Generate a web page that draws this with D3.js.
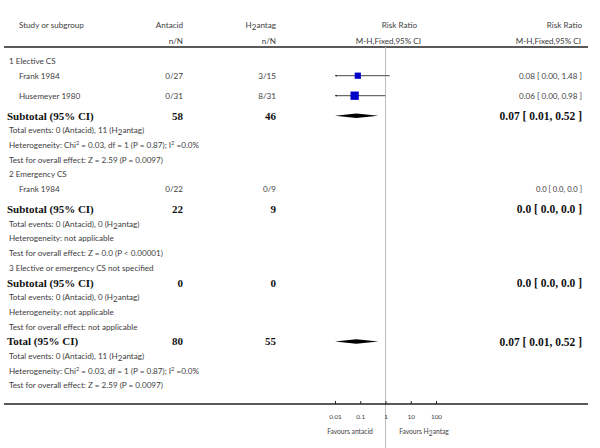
<!DOCTYPE html>
<html><head><meta charset="utf-8">
<script src="https://cdn.jsdelivr.net/npm/d3@7"></script>
<style>
html,body{margin:0;padding:0;background:#fff;}
svg{display:block;}
.sm{font-family:Lato,"Open Sans",sans-serif;font-size:8.1px;fill:#404040;}
.bd{font-family:"Liberation Serif","Times New Roman",serif;font-weight:bold;font-size:11px;fill:#111;}
</style></head>
<body>
<svg id="c" width="600" height="448"></svg>
<script>
// ---------- data ----------
const groupTitles = ["1 Elective CS", "2 Emergency CS", "3 Elective or emergency CS not specified"];
const studyNames = ["Frank 1984", "Husemeyer 1980", "Frank 1984"];
const studyGroup = [0, 0, 1];
const antacidEvents = [0, 0, 0];
const antacidTotal = [27, 31, 22];
const h2Events = [3, 8, 0];
const h2Total = [15, 31, 9];
const studyRR = [0.08, 0.06, null];
const studyLow = [0.00, 0.00, null];
const studyHigh = [1.48, 0.98, null];
const studyWeight = [36, 64, 0];
const studyLabels = ["0.08 [ 0.00, 1.48 ]", "0.06 [ 0.00, 0.98 ]", "0.0 [ 0.0, 0.0 ]"];

const subAntacid = [58, 22, 0];
const subH2 = [46, 9, 0];
const subRR = [0.07, null, null];
const subLow = [0.01, null, null];
const subHigh = [0.52, null, null];
const subLabels = ["0.07 [ 0.01, 0.52 ]", "0.0 [ 0.0, 0.0 ]", "0.0 [ 0.0, 0.0 ]"];
const subEventsA = [0, 0, 0];
const subEventsH2 = [11, 0, 0];
const subHet = [["Heterogeneity: Chi", "2", " = 0.03, df = 1 (P = 0.87); I", "2", " =0.0%"],
                ["Heterogeneity: not applicable"],
                ["Heterogeneity: not applicable"]];
const subTest = ["Test for overall effect: Z = 2.59 (P = 0.0097)",
                 "Test for overall effect: Z = 0.0 (P < 0.00001)",
                 "Test for overall effect: not applicable"];

const totalAntacid = 80, totalH2 = 55;
const totalRR = 0.07, totalLow = 0.01, totalHigh = 0.52;
const totalLabel = "0.07 [ 0.01, 0.52 ]";
const totalEventsA = 0, totalEventsH2 = 11;
const totalHet = ["Heterogeneity: Chi", "2", " = 0.03, df = 1 (P = 0.87); I", "2", " =0.0%"];
const totalTest = "Test for overall effect: Z = 2.59 (P = 0.0097)";

const axisTicks = [0.01, 0.1, 1, 10, 100];
const axisTickLabels = ["0.01", "0.1", "1", "10", "100"];
const favoursLeft = "Favours antacid";
const favoursRight = ["Favours H", "2", "antag"];

// ---------- layout ----------
const svg = d3.select("#c");
const x = d3.scaleLog().domain([0.01, 100]).range([335, 436]);
const colStudy = 19, colTitle = 9, colA = 183, colB = 276, colRR = 582;

const rows = [];
groupTitles.forEach((t, g) => {
  rows.push({type: "title", g});
  studyNames.forEach((n, i) => { if (studyGroup[i] === g) rows.push({type: "study", i}); });
  rows.push({type: "sub", g});
  rows.push({type: "events", a: subEventsA[g], b: subEventsH2[g]});
  rows.push({type: "het", parts: subHet[g]});
  rows.push({type: "test", text: subTest[g]});
});
rows.push({type: "total"});
rows.push({type: "events", a: totalEventsA, b: totalEventsH2});
rows.push({type: "het", parts: totalHet});
rows.push({type: "test", text: totalTest});

let y = 61;
rows.forEach(r => {
  r.y = y;
  y += (r.type === "study") ? 20 : 14.7;
});

function txt(xp, yp, cls, anchor, s) {
  return svg.append("text").attr("class", cls).attr("x", xp).attr("y", yp)
    .attr("dy", "0.35em").attr("text-anchor", anchor).text(s);
}
function h2(sel, pre, post) {
  sel.append("tspan").text(pre);
  sel.append("tspan").attr("baseline-shift", "-22%").text("2");
  sel.append("tspan").text(post);
}

// ---------- header ----------
txt(colStudy, 25, "sm", "start", "Study or subgroup");
txt(colA, 25, "sm", "end", "Antacid");
txt(colA, 41, "sm", "end", "n/N");
h2(svg.append("text").attr("class", "sm").attr("x", colB).attr("y", 25).attr("dy", "0.35em").attr("text-anchor", "end"), "H", "antag");
txt(colB, 41, "sm", "end", "n/N");
txt(417, 25, "sm", "end", "Risk Ratio");
txt(421, 41, "sm", "end", "M-H,Fixed,95% CI");
txt(colRR, 25, "sm", "end", "Risk Ratio");
txt(colRR - 1, 41, "sm", "end", "M-H,Fixed,95% CI");

svg.append("line").attr("x1", 4).attr("x2", 588).attr("y1", 47).attr("y2", 47)
  .attr("stroke", "#222").attr("stroke-width", 1.6);

svg.append("line").attr("x1", x(1)).attr("x2", x(1)).attr("y1", 47).attr("y2", 448)
  .attr("stroke", "#bdbdbd").attr("stroke-width", 1);

// ---------- rows ----------
const sizeScale = d3.scaleSqrt().domain([0, 64]).range([0, 8.3]);
const [xmin, xmax] = x.domain();

function diamond(yc, est, lo, hi) {
  const pts = [[x(Math.max(lo, xmin)), yc], [x(est), yc - 2.2], [x(Math.min(hi, xmax)), yc], [x(est), yc + 2.2]];
  svg.append("path").attr("d", d3.line()(pts) + "Z").attr("fill", "#000");
}

rows.forEach(r => {
  if (r.type === "title") {
    txt(colTitle, r.y, "sm", "start", groupTitles[r.g]);
  } else if (r.type === "study") {
    const i = r.i;
    txt(colStudy, r.y, "sm", "start", studyNames[i]);
    txt(colA, r.y, "sm", "end", antacidEvents[i] + "/" + antacidTotal[i]);
    txt(colB, r.y, "sm", "end", h2Events[i] + "/" + h2Total[i]);
    if (studyRR[i] !== null) {
      txt(colRR, r.y, "sm", "end", studyLabels[i]);
      const lo = studyLow[i] > xmin ? studyLow[i] : xmin;
      const hi = Math.min(studyHigh[i], xmax);
      svg.append("line").attr("x1", x(lo)).attr("x2", x(hi)).attr("y1", r.y).attr("y2", r.y)
        .attr("stroke", "#333").attr("stroke-width", 0.9);
      if (studyLow[i] <= xmin) {
        const ax = x(xmin);
        svg.append("path").attr("d", `M${ax},${r.y}L${ax + 2},${r.y - 0.9}L${ax + 2},${r.y + 0.9}Z`).attr("fill", "#222");
      }
      const s = sizeScale(studyWeight[i]);
      svg.append("rect").attr("x", x(studyRR[i]) - s / 2).attr("y", r.y - s / 2)
        .attr("width", s).attr("height", s).attr("fill", "#0000c8");
    } else {
      txt(colRR, r.y, "sm", "end", studyLabels[i]).style("font-size", "7.6px");
    }
  } else if (r.type === "sub") {
    txt(7, r.y, "bd", "start", "Subtotal (95% CI)");
    txt(colA, r.y, "bd", "end", subAntacid[r.g]);
    txt(colB, r.y, "bd", "end", subH2[r.g]);
    txt(colRR, r.y, "bd", "end", subLabels[r.g]).style("font-size", "11.5px");
    if (subRR[r.g] !== null) diamond(r.y, subRR[r.g], subLow[r.g], subHigh[r.g]);
  } else if (r.type === "total") {
    txt(7, r.y, "bd", "start", "Total (95% CI)");
    txt(colA, r.y, "bd", "end", totalAntacid);
    txt(colB, r.y, "bd", "end", totalH2);
    txt(colRR, r.y, "bd", "end", totalLabel).style("font-size", "11.5px");
    diamond(r.y, totalRR, totalLow, totalHigh);
  } else if (r.type === "events") {
    h2(svg.append("text").attr("class", "sm").attr("x", colTitle).attr("y", r.y).attr("dy", "0.35em"),
      "Total events: " + r.a + " (Antacid), " + r.b + " (H", "antag)");
  } else if (r.type === "het") {
    const t = svg.append("text").attr("class", "sm").attr("x", colTitle).attr("y", r.y).attr("dy", "0.35em");
    r.parts.forEach(p => {
      if (p === "2") t.append("tspan").attr("baseline-shift", "super").attr("font-size", "0.7em").text("2");
      else t.append("tspan").text(p);
    });
  } else if (r.type === "test") {
    txt(colTitle, r.y, "sm", "start", r.text);
  }
});

// ---------- axis ----------
const axisY = 404;
svg.append("line").attr("x1", 4).attr("x2", 588).attr("y1", axisY).attr("y2", axisY)
  .attr("stroke", "#222").attr("stroke-width", 1.6);
const ax = svg.append("g").attr("transform", `translate(0,${axisY})`)
  .call(d3.axisBottom(x).tickValues(axisTicks).tickSize(-3).tickPadding(10)
    .tickFormat((d, i) => axisTickLabels[i]));
ax.select(".domain").remove();
ax.selectAll(".tick line").attr("stroke", "#222");
ax.selectAll(".tick text").attr("font-family", "Lato, sans-serif").attr("font-size", "6.4px").attr("fill", "#404040");

txt(350, 432, "sm", "middle", favoursLeft).style("font-size", "6.7px");
const fr = svg.append("text").attr("class", "sm").attr("x", 424).attr("y", 432).attr("dy", "0.35em")
  .attr("text-anchor", "middle").style("font-size", "6.7px");
fr.append("tspan").text(favoursRight[0]);
fr.append("tspan").attr("baseline-shift", "-22%").text(favoursRight[1]);
fr.append("tspan").text(favoursRight[2]);
</script>
</body></html>
